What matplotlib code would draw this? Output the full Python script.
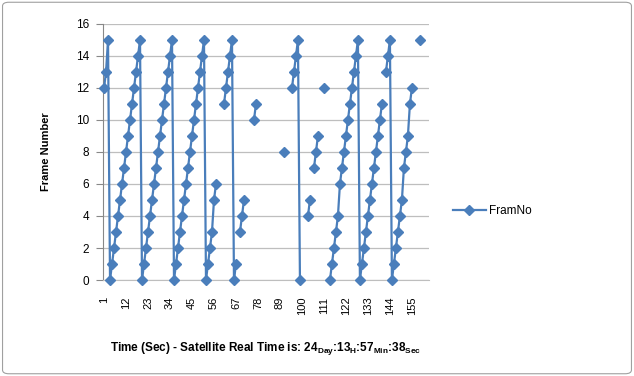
import numpy as np
import matplotlib
matplotlib.use("Agg")
import matplotlib.pyplot as plt
from matplotlib.patches import FancyBboxPatch

plt.rcParams['font.family'] = ['Liberation Sans', 'DejaVu Sans']
plt.rcParams['mathtext.fontset'] = 'custom'
plt.rcParams['mathtext.rm'] = 'Liberation Sans'
plt.rcParams['mathtext.bf'] = 'Liberation Sans:bold'

nan = np.nan

# frame number read per second (category 1..163), nan = no frame received
frame_no = [
    12, 13, 15,
    0, 1, 2, 3, 4, 5, 6, 7, 8, 9, 10, 11, 12, 13, 14, 15,
    0, 1, 2, 3, 4, 5, 6, 7, 8, 9, 10, 11, 12, 13, 14, 15,
    0, 1, 2, 3, 4, 5, 6, 7, 8, 9, 10, 11, 12, 13, 14, 15,
    0, 1, 2, 3, 5, 6,
    nan, nan, nan,
    11, 12, 13, 14, 15,
    0, 1,
    nan,
    3, 4, 5,
    nan, nan, nan, nan,
    10, 11,
    nan, nan, nan, nan, nan, nan, nan, nan, nan, nan, nan, nan, nan,
    8,
    nan, nan, nan,
    12, 13, 14, 15,
    0,
    nan, nan, nan,
    4, 5,
    nan,
    7, 8, 9,
    nan, nan,
    12,
    nan, nan,
    0, 1, 2, 3, 4,
    6, 7, 8, 9, 10, 11, 12, 13, 14, 15,
    0, 1, 2, 3, 4, 5, 6, 7, 8, 9, 10, 11,
    nan,
    13, 14, 15,
    0, 1, 2, 3, 4, 5,
    7, 8, 9,
    11, 12,
    nan, nan, nan,
    15,
    nan, nan, nan, nan,
]
seconds = np.arange(1, len(frame_no) + 1)
tick_seconds = [1, 12, 23, 34, 45, 56, 67, 78, 89, 100, 111, 122, 133, 144, 155]
y_ticks = [0, 2, 4, 6, 8, 10, 12, 14, 16]

fig = plt.figure(figsize=(6.34, 3.76), dpi=100)
ax = fig.add_axes([0.1625, 0.2553, 0.514, 0.681])

blue = '#4A7EBB'
ax.plot(seconds, frame_no, color=blue, lw=1.6, marker='D', markersize=5,
        markerfacecolor=blue, markeredgecolor=blue, label='FramNo',
        clip_on=False, zorder=3)

ax.set_xlim(0.5, len(frame_no) + 0.5)
ax.set_ylim(0, 16)
ax.set_yticks(y_ticks)
ax.set_xticks(tick_seconds)
ax.set_xticklabels([str(t) for t in tick_seconds], rotation=90, fontsize=8)
ax.tick_params(axis='y', labelsize=8.5, length=5, color='#888888', pad=5)
ax.tick_params(axis='x', length=0, pad=12)
ax.grid(axis='y', color='#BEBEBE', lw=0.9)
ax.set_axisbelow(True)
for s in ['top', 'right']:
    ax.spines[s].set_visible(False)
ax.spines['left'].set_color('#888888')
ax.spines['bottom'].set_color('#BEBEBE')

ax.set_ylabel('Frame Number', fontsize=8, fontweight='bold', labelpad=18)
ax.set_xlabel(r'Time (Sec) - Satellite Real Time is: 24$_{\mathbf{Day}}$:13$_{\mathbf{H}}$'
              r':57$_{\mathbf{Min}}$:38$_{\mathbf{Sec}}$',
              fontsize=8.5, fontweight='bold', labelpad=18)

ax.legend(loc='center left', bbox_to_anchor=(1.04, 0.27), frameon=False,
          fontsize=8.5, handlelength=2.8, handletextpad=0.3)

fig.patches.append(FancyBboxPatch((0.004, 0.006), 0.992, 0.988,
                                  boxstyle='round,pad=0,rounding_size=0.01',
                                  transform=fig.transFigure, fill=False,
                                  edgecolor='#A0A0A0', lw=0.8))

fig.savefig('out.png', dpi=100)
